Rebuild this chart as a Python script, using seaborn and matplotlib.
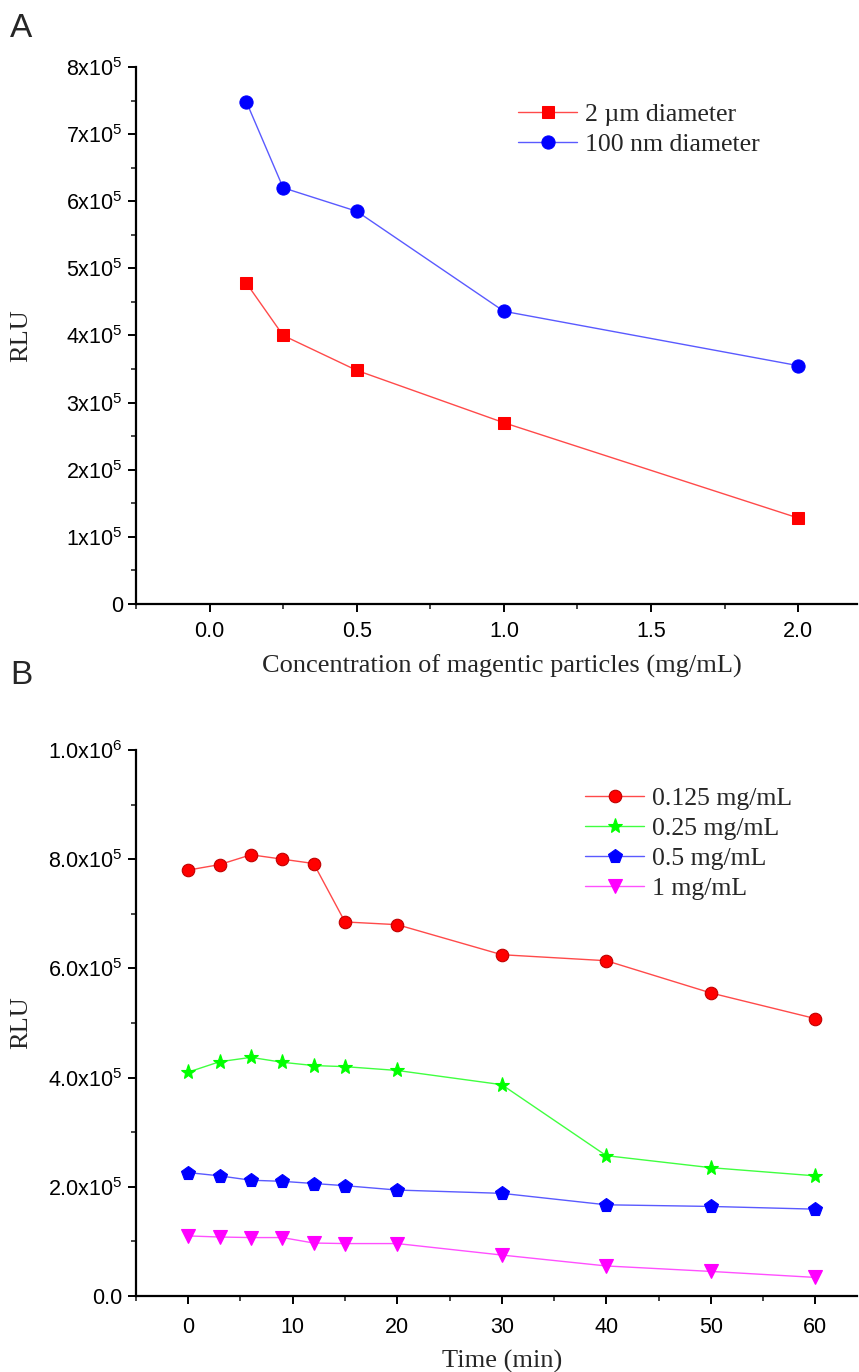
import numpy as np
import pandas as pd
import matplotlib
matplotlib.use("Agg")
import matplotlib.pyplot as plt
import matplotlib.ticker as mticker
import seaborn as sns

# -----------------------------
# Data
# -----------------------------
conc = [0.125, 0.25, 0.5, 1.0, 2.0]
rlu_2um = [4.78e5, 4.0e5, 3.48e5, 2.7e5, 1.28e5]
rlu_100nm = [7.48e5, 6.2e5, 5.85e5, 4.36e5, 3.55e5]

time_min = [0, 3, 6, 9, 12, 15, 20, 30, 40, 50, 60]
rlu_0125 = [7.80e5, 7.90e5, 8.08e5, 8.00e5, 7.92e5, 6.85e5, 6.80e5, 6.25e5, 6.14e5, 5.55e5, 5.08e5]
rlu_025 = [4.10e5, 4.29e5, 4.37e5, 4.28e5, 4.22e5, 4.20e5, 4.13e5, 3.87e5, 2.57e5, 2.35e5, 2.20e5]
rlu_05 = [2.26e5, 2.20e5, 2.12e5, 2.10e5, 2.06e5, 2.02e5, 1.94e5, 1.88e5, 1.67e5, 1.64e5, 1.59e5]
rlu_1 = [1.10e5, 1.08e5, 1.07e5, 1.07e5, 0.97e5, 0.96e5, 0.96e5, 0.75e5, 0.55e5, 0.45e5, 0.34e5]

df_a = pd.DataFrame({"conc": conc, "um2": rlu_2um, "nm100": rlu_100nm})
df_b = pd.DataFrame({"t": time_min, "c0125": rlu_0125, "c025": rlu_025,
                     "c05": rlu_05, "c1": rlu_1})

# -----------------------------
# Style
# -----------------------------
sns.set_style("ticks")
plt.rcParams["font.family"] = ["Liberation Sans", "DejaVu Sans"]
plt.rcParams["mathtext.fontset"] = "custom"
plt.rcParams["mathtext.rm"] = "Liberation Sans"
plt.rcParams["mathtext.it"] = "Liberation Sans:italic"
plt.rcParams["mathtext.bf"] = "Liberation Sans:bold"

SERIF = ["Liberation Serif", "DejaVu Serif"]
TICK_FS = 15.5
LABEL_FS = 19
LEG_FS = 18.5

fig = plt.figure(figsize=(8.59, 13.72), dpi=100)
ax_a = fig.add_axes([0.1583, 0.5598, 0.8395, 0.3914])
ax_b = fig.add_axes([0.1583, 0.0554, 0.8395, 0.3980])


def sci_fmt(decimals):
    def f(v, pos):
        if v == 0:
            return "0" if decimals == 0 else "0.0"
        exp = int(np.floor(np.log10(abs(v))))
        mant = v / 10 ** exp
        m = f"{mant:.{decimals}f}"
        return r"$\mathrm{" + m + r"x10}^{" + str(exp) + r"}$"
    return mticker.FuncFormatter(f)


def style_axis(ax, xpad):
    sns.despine(ax=ax)
    for s in ["left", "bottom"]:
        ax.spines[s].set_linewidth(1.6)
        ax.spines[s].set_color("black")
    ax.tick_params(which="major", direction="out", length=6, width=1.4,
                   labelsize=TICK_FS, pad=3.5, colors="black")
    ax.tick_params(axis="x", which="major", pad=xpad)
    ax.tick_params(which="minor", direction="out", length=3.5, width=1.2)
    ax.grid(False)


# -----------------------------
# Panel A
# -----------------------------
sns.lineplot(data=df_a, x="conc", y="um2", ax=ax_a, color="#ff4a4a", lw=1.0,
             marker="s", markersize=8, markerfacecolor="#ff0000",
             markeredgecolor="#ff0000", label="2 µm diameter")
sns.lineplot(data=df_a, x="conc", y="nm100", ax=ax_a, color="#5a5aff", lw=1.0,
             marker="o", markersize=9.5, markerfacecolor="#0000ff",
             markeredgecolor="#0000ff", label="100 nm diameter")
ax_a.set_xlim(-0.25, 2.2)
ax_a.set_ylim(0, 8e5)
ax_a.xaxis.set_major_locator(mticker.MultipleLocator(0.5))
ax_a.xaxis.set_minor_locator(mticker.MultipleLocator(0.25))
ax_a.yaxis.set_major_locator(mticker.MultipleLocator(1e5))
ax_a.yaxis.set_minor_locator(mticker.MultipleLocator(0.5e5))
ax_a.xaxis.set_major_formatter(mticker.FormatStrFormatter("%.1f"))
ax_a.yaxis.set_major_formatter(sci_fmt(0))
style_axis(ax_a, xpad=6.5)
ax_a.set_xlabel("Concentration of magentic particles (mg/mL)",
                fontsize=LABEL_FS, family=SERIF)
ax_a.set_ylabel("RLU", fontsize=LABEL_FS, family=SERIF)
ax_a.xaxis.set_label_coords(0.508, -0.095)
ax_a.yaxis.set_label_coords(-0.144, 0.5)
ax_a.legend(loc="upper left", bbox_to_anchor=(0.53, 0.932), frameon=False,
            prop={"family": SERIF, "size": LEG_FS}, handlelength=2.3,
            handletextpad=0.3, labelspacing=0.25, borderpad=0, borderaxespad=0)

# -----------------------------
# Panel B
# -----------------------------
series_b = [
    ("c0125", "0.125 mg/mL", "#ff4a4a", "#ff0000", "o", 9),
    ("c025", "0.25 mg/mL", "#40ff40", "#00ff00", "*", 11),
    ("c05", "0.5 mg/mL", "#5a5aff", "#0000ff", "p", 10),
    ("c1", "1 mg/mL", "#ff50ff", "#ff00ff", "v", 9.5),
]
for col, lab, lc, mc, mk, ms in series_b:
    edge = "#c00000" if col == "c0125" else mc
    sns.lineplot(data=df_b, x="t", y=col, ax=ax_b, color=lc, lw=1.0,
                 marker=mk, markersize=ms, markerfacecolor=mc,
                 markeredgecolor=edge, markeredgewidth=0.8, label=lab)
ax_b.set_xlim(-5, 64)
ax_b.set_ylim(0, 1e6)
ax_b.xaxis.set_major_locator(mticker.MultipleLocator(10))
ax_b.xaxis.set_minor_locator(mticker.MultipleLocator(5))
ax_b.yaxis.set_major_locator(mticker.MultipleLocator(2e5))
ax_b.yaxis.set_minor_locator(mticker.MultipleLocator(1e5))
ax_b.yaxis.set_major_formatter(sci_fmt(1))
style_axis(ax_b, xpad=9)
ax_b.set_xlabel("Time (min)", fontsize=LABEL_FS, family=SERIF)
ax_b.set_ylabel("RLU", fontsize=LABEL_FS, family=SERIF)
ax_b.xaxis.set_label_coords(0.508, -0.098)
ax_b.yaxis.set_label_coords(-0.144, 0.5)
ax_b.legend(loc="upper left", bbox_to_anchor=(0.623, 0.933), frameon=False,
            prop={"family": SERIF, "size": LEG_FS}, handlelength=2.3,
            handletextpad=0.3, labelspacing=0.28, borderpad=0, borderaxespad=0)

# panel letters
fig.text(0.012, 0.979, "A", fontsize=24, va="center", ha="left")
fig.text(0.012, 0.5075, "B", fontsize=24, va="center", ha="left")

fig.savefig("out.png", dpi=100)
